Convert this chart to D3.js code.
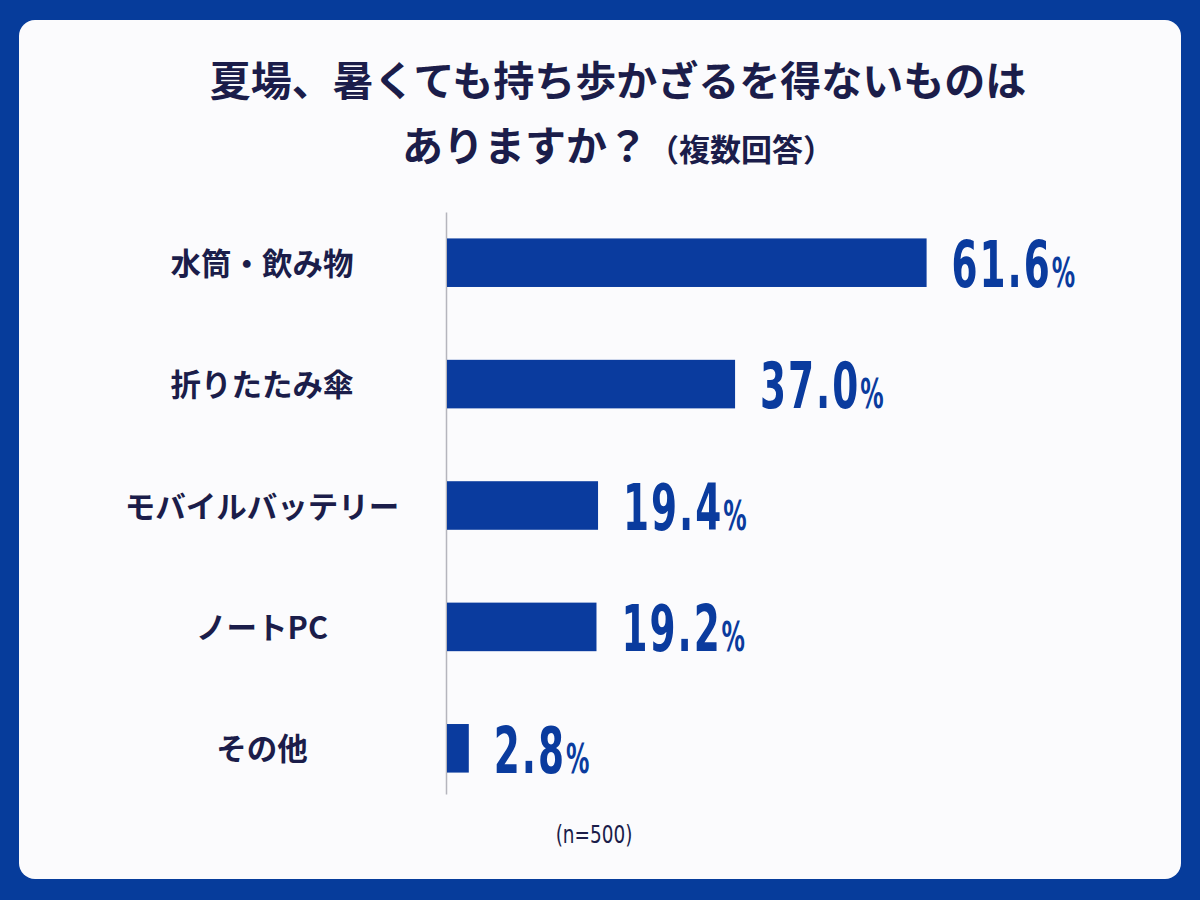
<!DOCTYPE html>
<html>
<head>
<meta charset="utf-8">
<script src="https://cdn.jsdelivr.net/npm/d3@7"></script>
<style>
  body { margin: 0; background: #063c9b; }
  svg { display: block; }
</style>
</head>
<body>
<div id="chart"></div>
<script>
// values
var categories = ["水筒・飲み物", "折りたたみ傘", "モバイルバッテリー", "ノートPC", "その他"];
var values = [61.6, 37.0, 19.4, 19.2, 2.8];
var titleLines = ["夏場、暑くても持ち歩かざるを得ないものは", "ありますか？"];
var titleNote = "（複数回答）";
var sampleNote = "(n=500)";

var width = 1200;
var height = 900;

var jpFont = "'Noto Sans CJK JP', 'Noto Sans', sans-serif";
var numFont = "'DejaVu Sans Condensed', 'DejaVu Sans', sans-serif";
var ink = "#1b1d4a";
var barColor = "#0a3b9e";

var svg = d3.select("#chart").append("svg")
  .attr("width", width)
  .attr("height", height);

// blue frame + white card
svg.append("rect")
  .attr("width", width)
  .attr("height", height)
  .attr("fill", "#063c9b");

svg.append("rect")
  .attr("x", 19)
  .attr("y", 20)
  .attr("width", 1162)
  .attr("height", 859)
  .attr("rx", 16)
  .attr("fill", "#fbfbfd");

// title
var title = svg.append("text")
  .attr("text-anchor", "middle")
  .attr("font-family", jpFont)
  .attr("font-weight", 700)
  .attr("fill", ink);

title.append("tspan")
  .attr("x", 618)
  .attr("y", 96)
  .attr("font-size", 41)
  .text(titleLines[0]);

title.append("tspan")
  .attr("x", 618)
  .attr("y", 161)
  .attr("font-size", 41)
  .text(titleLines[1])
  .append("tspan")
    .attr("font-size", 31)
    .text(titleNote);

var x = d3.scaleLinear()
  .domain([0, 70])
  .range([447, 447 + 545]);

var y = d3.scaleBand()
  .domain(categories)
  .range([202, 809])
  .paddingInner(0.6)
  .paddingOuter(0.3);

var rows = categories.map(function(c, i) { return {name: c, value: values[i]}; });

// vertical base line
svg.append("line")
  .attr("x1", x(0) - 0.5)
  .attr("x2", x(0) - 0.5)
  .attr("y1", y(categories[0]) - 26)
  .attr("y2", y(categories[categories.length - 1]) + y.bandwidth() + 22)
  .attr("stroke", "#b5b5bd")
  .attr("stroke-width", 1.5);

svg.append("g")
  .selectAll("rect")
  .data(rows)
  .join("rect")
    .attr("x", x(0))
    .attr("y", function(d) { return y(d.name); })
    .attr("width", function(d) { return x(d.value) - x(0); })
    .attr("height", y.bandwidth())
    .attr("fill", barColor);

// category labels, centered in the left column
svg.append("g")
  .selectAll("text")
  .data(rows)
  .join("text")
    .attr("x", 262)
    .attr("y", function(d) { return y(d.name) + y.bandwidth() / 2 + 12; })
    .attr("text-anchor", "middle")
    .attr("font-family", jpFont)
    .attr("font-weight", 700)
    .attr("font-size", 30.5)
    .attr("fill", ink)
    .text(function(d) { return d.name; });

// value labels, condensed digits with a small %
var labels = svg.append("g")
  .selectAll("text")
  .data(rows)
  .join("text")
    .attr("transform", function(d) {
      return "translate(" + (x(d.value) + 25) + "," + (y(d.name) + y.bandwidth()) + ") scale(0.65,1)";
    })
    .attr("font-family", numFont)
    .attr("font-weight", 700)
    .attr("fill", barColor);

labels.append("tspan")
  .attr("font-size", 64)
  .attr("letter-spacing", 3)
  .text(function(d) { return d.value.toFixed(1); });

labels.append("tspan")
  .attr("font-size", 40)
  .text("%");

svg.append("text")
  .attr("transform", "translate(594,843) scale(0.82,1)")
  .attr("text-anchor", "middle")
  .attr("font-family", numFont)
  .attr("font-size", 25)
  .attr("fill", ink)
  .text(sampleNote);
</script>
</body>
</html>
